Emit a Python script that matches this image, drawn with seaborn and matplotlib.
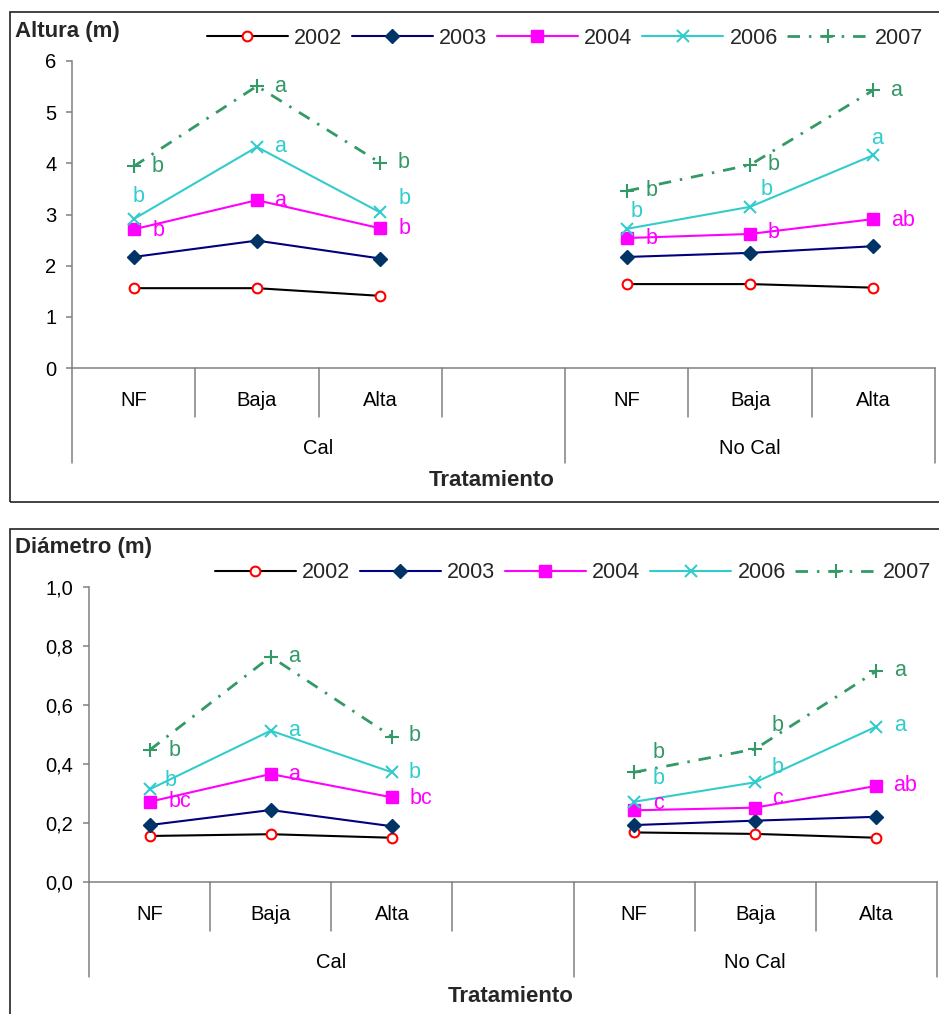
import matplotlib
matplotlib.use("Agg")
import matplotlib.pyplot as plt
import matplotlib.transforms as mtransforms
from matplotlib.patches import Rectangle
from matplotlib.ticker import FuncFormatter
import pandas as pd
import seaborn as sns

# ---------------------------------------------------------------- data
groups = ["Cal", "No Cal"]
treatments = ["NF", "Baja", "Alta"]
years = ["2002", "2003", "2004", "2006", "2007"]

# order: Cal NF, Cal Baja, Cal Alta, No Cal NF, No Cal Baja, No Cal Alta
altura_2002 = [1.56, 1.56, 1.41, 1.64, 1.64, 1.57]
altura_2003 = [2.17, 2.49, 2.14, 2.17, 2.25, 2.38]
altura_2004 = [2.71, 3.28, 2.73, 2.54, 2.62, 2.91]
altura_2006 = [2.91, 4.32, 3.04, 2.72, 3.15, 4.16]
altura_2007 = [3.94, 5.51, 4.01, 3.46, 3.97, 5.43]

diametro_2002 = [0.156, 0.162, 0.150, 0.168, 0.163, 0.150]
diametro_2003 = [0.193, 0.244, 0.189, 0.193, 0.208, 0.221]
diametro_2004 = [0.272, 0.366, 0.287, 0.243, 0.252, 0.326]
diametro_2006 = [0.314, 0.513, 0.372, 0.272, 0.338, 0.527]
diametro_2007 = [0.447, 0.764, 0.493, 0.372, 0.451, 0.715]

# significance letters (Tukey groups) per year
altura_letras_2004 = ["b", "a", "b", "b", "b", "ab"]
altura_letras_2006 = ["b", "a", "b", "b", "b", "a"]
altura_letras_2007 = ["b", "a", "b", "b", "b", "a"]
diametro_letras_2004 = ["bc", "a", "bc", "c", "c", "ab"]
diametro_letras_2006 = ["b", "a", "b", "b", "b", "a"]
diametro_letras_2007 = ["b", "a", "b", "b", "b", "a"]

altura = dict(zip(years, [altura_2002, altura_2003, altura_2004, altura_2006, altura_2007]))
diametro = dict(zip(years, [diametro_2002, diametro_2003, diametro_2004, diametro_2006, diametro_2007]))
altura_letras = {"2004": altura_letras_2004, "2006": altura_letras_2006, "2007": altura_letras_2007}
diametro_letras = {"2004": diametro_letras_2004, "2006": diametro_letras_2006, "2007": diametro_letras_2007}

# ---------------------------------------------------------------- styles
DASHDOT = (0, (4.5, 3.2, 0.9, 3.2))
series_style = {
    "2002": dict(color="black", ls="-", lw=1.5, marker="o", ms=7, mfc="white", mec="#FF0000", mew=1.5),
    "2003": dict(color="#000080", ls="-", lw=1.5, marker="D", ms=7.5, mfc="#003366", mec="#003366", mew=1),
    "2004": dict(color="#FF00FF", ls="-", lw=1.5, marker="s", ms=8, mfc="#FF00FF", mec="#FF00FF", mew=1),
    "2006": dict(color="#33CCCC", ls="-", lw=1.5, marker="x", ms=9, mfc="#33CCCC", mec="#33CCCC", mew=1.5),
    "2007": dict(color="#339966", ls=DASHDOT, lw=2.0, marker="+", ms=10, mfc="#339966", mec="#339966", mew=1.5),
}

# label offsets in pixels (dx, dy) relative to each point
altura_offsets = {
    "2007": [(24, 0), (23, 0), (23, 0), (25, 0), (23, 0), (23, 0)],
    "2006": [(5, 23), (23, 0), (24, 14), (10, 17), (16, 17), (4, 17)],
    "2004": [(25, -1), (23, 0), (24, 0), (25, 0), (23, 1), (30, -1)],
}
diametro_offsets = {
    "2007": [(25, 0), (23, 0), (23, 1), (24, 20), (22, 23), (24, 1)],
    "2006": [(21, 9), (23, 0), (23, 0), (24, 23), (22, 15), (24, 1)],
    "2004": [(30, 0), (23, 0), (29, -1), (24, 7), (22, 9), (29, 0)],
}

sns.set_theme(style="white")
plt.rcParams["font.family"] = ["Liberation Sans", "DejaVu Sans"]

W, H = 939, 1014
fig = plt.figure(figsize=(W / 100, H / 100), dpi=100)
fig.patch.set_facecolor("white")


def fx(px):
    return px / W


def fy(py):
    return 1 - py / H


AXIS_GRAY = "#808080"

# slot positions on the x axis: each group has 4 slots, the last Cal slot stays empty
positions = [gi * 4 + ti for gi in range(len(groups)) for ti in range(len(treatments))]


def draw_panel(ax, values, letters, offsets, ymax, yticks, fmt, axis_px):
    handles = []
    for year in years:
        st = series_style[year]
        vals = values[year]
        for gi in range(len(groups)):
            sl = slice(gi * 3, gi * 3 + 3)
            df = pd.DataFrame({"pos": positions[sl], "valor": vals[sl]})
            sns.lineplot(
                data=df, x="pos", y="valor", ax=ax, estimator=None, sort=False,
                legend=False, color=st["color"], linestyle=st["ls"], linewidth=st["lw"],
                marker=st["marker"], markersize=st["ms"], markerfacecolor=st["mfc"],
                markeredgecolor=st["mec"], markeredgewidth=st["mew"], clip_on=False,
            )
            if gi == 0:
                handles.append(ax.lines[-1])
        if year in letters:
            for i, (lab, (dx, dy)) in enumerate(zip(letters[year], offsets[year])):
                ax.annotate(lab, (positions[i], vals[i]), xytext=(dx, dy),
                            textcoords="offset pixels", ha="center", va="center",
                            color=st["color"], fontsize=15.5)

    ax.set_xlabel("")
    ax.set_ylabel("")
    ax.set_xlim(-0.5, 6.5)
    ax.set_ylim(0, ymax)
    ax.set_xticks([])
    ax.set_yticks(yticks)
    ax.yaxis.set_major_formatter(FuncFormatter(fmt))
    ax.grid(False)
    for side in ("top", "right"):
        ax.spines[side].set_visible(False)
    for side in ("left", "bottom"):
        ax.spines[side].set_color(AXIS_GRAY)
        ax.spines[side].set_linewidth(1.1)
    ax.tick_params(axis="y", left=True, direction="out", length=4.3, width=1.1,
                   color=AXIS_GRAY, pad=7, labelsize=14.5, labelcolor="black")

    # category and group dividers below the axis
    trans = mtransforms.blended_transform_factory(ax.transData, fig.transFigure)
    group_edges = [-0.5, 3.5, 6.5]
    inner_edges = [0.5, 1.5, 2.5, 4.5, 5.5]
    for b in group_edges:
        ax.plot([b, b], [fy(axis_px), fy(axis_px + 95)], transform=trans,
                color=AXIS_GRAY, lw=1.1, clip_on=False)
    for b in inner_edges:
        ax.plot([b, b], [fy(axis_px), fy(axis_px + 49)], transform=trans,
                color=AXIS_GRAY, lw=1.1, clip_on=False)
    for i, p in enumerate(positions):
        ax.text(p, fy(axis_px + 32), treatments[i % 3], transform=trans,
                ha="center", va="center", fontsize=14.5, color="black")
    for gi, g in enumerate(groups):
        center = (group_edges[gi] + group_edges[gi + 1]) / 2
        ax.text(center, fy(axis_px + 80), g, transform=trans,
                ha="center", va="center", fontsize=14.5, color="black")
    return handles


def int_fmt(v, _):
    return f"{v:.0f}"


def comma_fmt(v, _):
    return f"{v:.1f}".replace(".", ",")


# ---------------------------------------------------------------- top panel: height
ax1 = fig.add_axes([fx(72), fy(368), fx(935) - fx(72), fy(61) - fy(368)])
ax1.set_facecolor("none")
h1 = draw_panel(ax1, altura, altura_letras, altura_offsets, 6, range(0, 7), int_fmt, 368)

# ---------------------------------------------------------------- bottom panel: diameter
ax2 = fig.add_axes([fx(89), fy(882), fx(937) - fx(89), fy(587) - fy(882)])
ax2.set_facecolor("none")
h2 = draw_panel(ax2, diametro, diametro_letras, diametro_offsets, 1.0,
                [0, 0.2, 0.4, 0.6, 0.8, 1.0], comma_fmt, 882)

leg_kw = dict(ncol=5, frameon=False, fontsize=15.5, handlelength=3.75, handletextpad=0.3,
              columnspacing=0.45, borderpad=0, borderaxespad=0, numpoints=1,
              loc="center left", bbox_transform=fig.transFigure)
fig.legend(h1, years, bbox_to_anchor=(fx(207), fy(38)), **leg_kw)
fig.legend(h2, years, bbox_to_anchor=(fx(215), fy(573)), **leg_kw)

# panel titles and x-axis titles
fig.text(fx(15), fy(32), "Altura (m)", fontsize=16, fontweight="bold", ha="left", va="center")
fig.text(fx(15), fy(548), "Diámetro (m)", fontsize=16, fontweight="bold", ha="left", va="center")
fig.text(fx(492), fy(480), "Tratamiento", fontsize=16, fontweight="bold", ha="center", va="center")
fig.text(fx(511), fy(997), "Tratamiento", fontsize=16, fontweight="bold", ha="center", va="center")

# panel frames
fig.add_artist(Rectangle((fx(10), fy(502)), fx(980) - fx(10), fy(12) - fy(502),
                         transform=fig.transFigure, fill=False, lw=1.2, ec="#222222"))
fig.add_artist(Rectangle((fx(10), fy(1040)), fx(980) - fx(10), fy(529) - fy(1040),
                         transform=fig.transFigure, fill=False, lw=1.2, ec="#222222"))

fig.savefig("out.png", dpi=100)
